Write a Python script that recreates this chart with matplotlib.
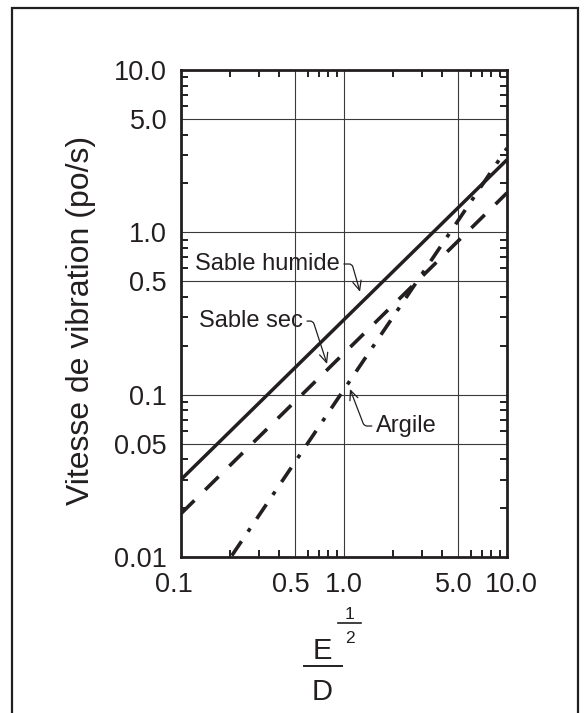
import matplotlib
matplotlib.use('Agg')
import matplotlib.pyplot as plt
import matplotlib.ticker as ticker
import matplotlib.transforms as mtransforms
from matplotlib.lines import Line2D
from matplotlib.patches import Rectangle
import numpy as np

plt.rcParams['font.family'] = ['Liberation Sans', 'DejaVu Sans']

# straight lines on log-log paper, end points
humideX = [0.1, 10.0]
humideY = [0.030, 2.8]
secX = [0.1, 10.0]
secY = [0.0185, 1.75]
argileX = [0.205, 10.0]
argileY = [0.0102, 3.3]

xTicks = [0.1, 0.5, 1.0, 5.0, 10.0]
xTickLabels = ['0.1', '0.5', '1.0', '5.0', '10.0']
yTicks = [0.01, 0.05, 0.1, 0.5, 1.0, 5.0, 10.0]
yTickLabels = ['0.01', '0.05', '0.1', '0.5', '1.0', '5.0', '10.0']

ink = '#231f20'
W, H = 586, 713

# pixel -> figure fraction
def fx(px):
    return px / W

def fy(py):
    return 1 - py / H

fig = plt.figure(figsize=(W / 100, H / 100), dpi=100)

# outer frame
fig.add_artist(Rectangle((fx(12), -0.05), fx(578) - fx(12), fy(8) + 0.05,
                         transform=fig.transFigure, fill=False, ec=ink, lw=1.6, clip_on=False))

ax = fig.add_axes([fx(181), fy(557), (507 - 181) / W, (557 - 70) / H])
ax.set_xscale('log')
ax.set_yscale('log')
ax.set_xlim(0.1, 10)
ax.set_ylim(0.01, 10)

ax.plot(humideX, humideY, color=ink, lw=2.5, solid_capstyle='butt')
ax.plot(secX, secY, color=ink, lw=2.6, dashes=(5.2, 4.2), dash_capstyle='butt')
ax.plot(argileX, argileY, color=ink, lw=2.6, dashes=(4.8, 3.2, 1.1, 3.2), dash_capstyle='butt')

# ticks and grid
ax.set_xticks(xTicks)
ax.set_xticklabels(xTickLabels)
ax.set_yticks(yTicks)
ax.set_yticklabels(yTickLabels)
ax.xaxis.set_minor_locator(ticker.LogLocator(base=10, subs=np.arange(2, 10), numticks=20))
ax.yaxis.set_minor_locator(ticker.LogLocator(base=10, subs=np.arange(2, 10), numticks=20))
ax.xaxis.set_minor_formatter(ticker.NullFormatter())
ax.yaxis.set_minor_formatter(ticker.NullFormatter())
ax.tick_params(which='major', length=0, labelsize=19.5, labelcolor=ink)
ax.tick_params(axis='x', which='major', pad=11)
ax.tick_params(axis='y', which='major', pad=10)
ax.tick_params(which='minor', direction='in', length=5, width=1.4, color=ink,
               top=True, right=True, bottom=True, left=True)
ax.grid(True, which='major', color='#3a3a3a', lw=0.8)
ax.set_axisbelow(True)
for s in ax.spines.values():
    s.set_linewidth(2.0)
    s.set_color(ink)

# small horizontal nudges of the x labels, as in the original
xShift = [-7, -4, 0, -4, 4]
for lab, dx in zip(ax.get_xticklabels(), xShift):
    lab.set_transform(lab.get_transform() + mtransforms.ScaledTranslation(dx / 100, 0, fig.dpi_scale_trans))

ax.set_ylabel('Vitesse de vibration (po/s)', fontsize=23, color=ink)
ax.yaxis.label.set_va('center')
ax.yaxis.set_label_coords((81 - 181) / 326, (557 - 320) / 487)

# leader labels
annFont = 17
arrowStyle = '->,head_length=0.4,head_width=0.18'
ax.annotate('Sable humide', xy=(1.254, 0.43), xytext=(0.1219, 0.638),
            ha='left', va='center', fontsize=annFont, color=ink,
            arrowprops=dict(arrowstyle=arrowStyle, color=ink, lw=0.9, shrinkA=1, shrinkB=0,
                            relpos=(1, 0.5), connectionstyle='angle,angleA=0,angleB=106,rad=3'))
ax.annotate('Sable sec', xy=(0.787, 0.1545), xytext=(0.1289, 0.284),
            ha='left', va='center', fontsize=annFont, color=ink,
            arrowprops=dict(arrowstyle=arrowStyle, color=ink, lw=0.9, shrinkA=1, shrinkB=0,
                            relpos=(1, 0.5), connectionstyle='angle,angleA=0,angleB=108,rad=3'))
ax.annotate('Argile', xy=(1.088, 0.1084), xytext=(1.572, 0.0641),
            ha='left', va='center', fontsize=annFont, color=ink,
            arrowprops=dict(arrowstyle=arrowStyle, color=ink, lw=0.9, shrinkA=1, shrinkB=0,
                            relpos=(0, 0.5), connectionstyle='angle,angleA=0,angleB=-69,rad=3'))

# x label: E^(1/2) over D
fig.text(fx(322), fy(659), 'E', ha='center', va='baseline', fontsize=21, color=ink)
fig.add_artist(Line2D([fx(304), fx(342)], [fy(666), fy(666)], color=ink, lw=1.4))
fig.text(fx(322), fy(700), 'D', ha='center', va='baseline', fontsize=21, color=ink)
fig.text(fx(349.5), fy(619), '1', ha='center', va='baseline', fontsize=12.5, color=ink)
fig.add_artist(Line2D([fx(338), fx(361)], [fy(623), fy(623)], color=ink, lw=1.2))
fig.text(fx(349.5), fy(643), '2', ha='center', va='baseline', fontsize=12.5, color=ink)

fig.savefig('out.png', dpi=100)
